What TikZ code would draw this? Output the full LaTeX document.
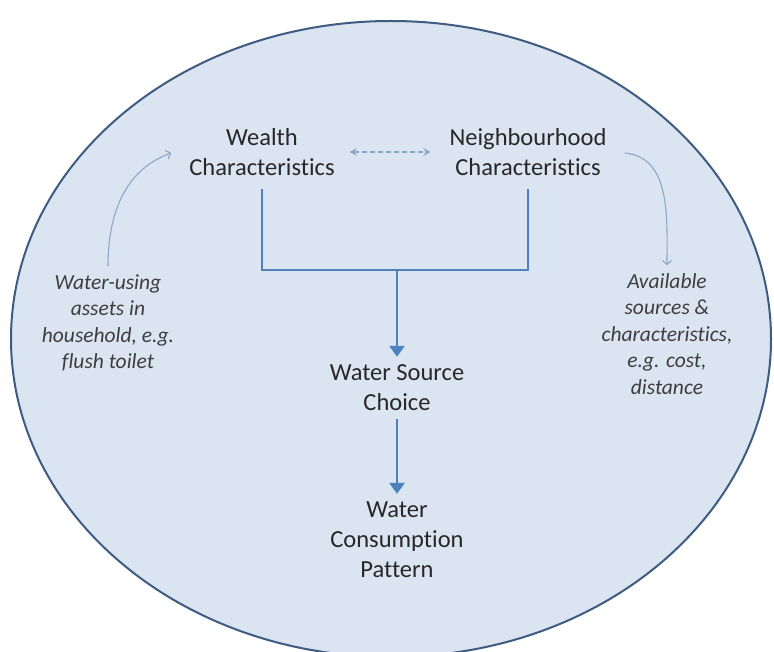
\documentclass[tikz,border=0pt]{standalone}
\usepackage{fontspec}
\setmainfont[Ligatures={NoCommon,NoRare},RawFeature={-liga;-dlig;-clig}]{Carlito}
\usetikzlibrary{arrows.meta}
\definecolor{ellfill}{RGB}{219,228,241}
\definecolor{elldraw}{RGB}{62,92,130}
\definecolor{barblue}{RGB}{79,129,189}
\definecolor{thinblue}{RGB}{140,168,202}
\definecolor{txt}{RGB}{40,40,40}
\definecolor{itxt}{RGB}{62,62,62}
\tikzset{
  lab/.style={align=center, font=\fontsize{24.5}{30}\selectfont, text=txt, inner sep=8pt},
  note/.style={align=center, font=\fontsize{21.5}{26.5}\selectfont\itshape, text=itxt, inner sep=8pt},
  bar/.style={draw=barblue, line width=2.8pt, line join=miter},
  mainarrow/.style={bar, -{Triangle[length=11pt,width=15pt]}},
  thinarrow/.style={draw=thinblue, line width=1.1pt, -{Straight Barb[length=4pt,width=9pt]}},
  dasharrow/.style={draw=thinblue, line width=1.2pt, dash pattern=on 5pt off 3pt,
    {Stealth[length=7pt,width=8pt]}-{Stealth[length=7pt,width=8pt]}}
}
\begin{document}
\begin{tikzpicture}[x=1pt,y=1pt]
\useasboundingbox (0,0) rectangle (774,-652);
\fill[white] (0,0) rectangle (774,-652);
\draw[fill=ellfill, draw=elldraw, line width=2pt] (391,-339) ellipse [x radius=380, y radius=318];

\node[lab] (W) at (262,-152) {Wealth\\Characteristics};
\node[lab] (N) at (528,-152) {Neighbourhood\\Characteristics};
\node[lab] (WSC) at (397,-388) {Water Source\\Choice};
\node[lab] (WCP) at (397,-540) {Water\\Consumption\\Pattern};
\node[note] (L) at (108,-323) {Water-using\\assets in\\household, e.g.\\flush toilet};
\node[note] (R) at (667,-334) {Available\\sources \&\\characteristics,\\e.g. cost,\\distance};

\coordinate (j) at (397,-270);
\draw[bar] ([yshift=-5pt]W.south) |- (j) -| ([yshift=-5pt]N.south);
\draw[mainarrow] (j) -- (WSC);
\draw[mainarrow] (WSC) -- (WCP);

\draw[dasharrow] ([xshift=7pt]W.east) -- ([xshift=-11pt]N.west);

\draw[thinarrow] (L.north) to[out=90,in=200] ([xshift=-10pt,yshift=-1pt]W.west);
\draw[thinarrow] ([xshift=10pt,yshift=-1pt]N.east) to[out=-5,in=90] (R.north);
\end{tikzpicture}
\end{document}
